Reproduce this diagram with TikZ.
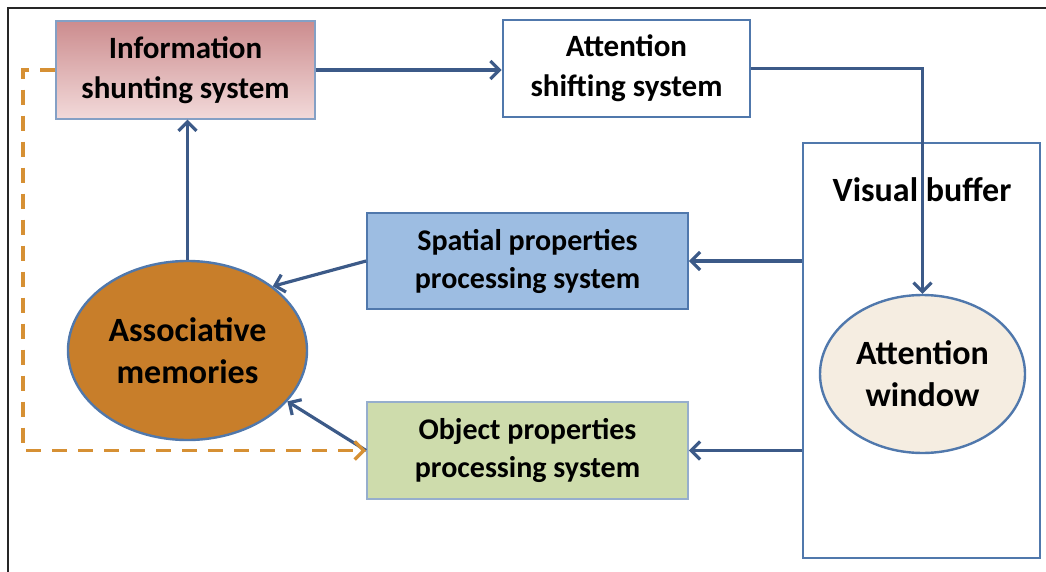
\documentclass[tikz,border=0pt]{standalone}
\usepackage{fontspec}
\setmainfont{Carlito}
\usepackage{tikz}
\usetikzlibrary{arrows.meta, shapes.geometric, positioning}
\definecolor{linkblue}{RGB}{60,90,136}
\definecolor{edgeblue}{RGB}{80,120,172}
\definecolor{infotop}{RGB}{204,140,142}
\definecolor{infobot}{RGB}{242,218,218}
\definecolor{spatialfill}{RGB}{157,189,226}
\definecolor{objectfill}{RGB}{206,220,172}
\definecolor{assocfill}{RGB}{200,126,42}
\definecolor{windowfill}{RGB}{245,237,225}
\definecolor{loopcol}{RGB}{214,144,52}
\tikzstyle{box} = [rectangle, draw=edgeblue, line width=1.8pt, align=center, inner sep=0pt, font=\bfseries\fontsize{31}{40}\selectfont]
\tikzstyle{blob} = [ellipse, draw=edgeblue, line width=2.4pt, align=center, inner sep=0pt, font=\bfseries\fontsize{34}{42}\selectfont]
\tikzstyle{link} = [draw=linkblue, line width=3.2pt, -{Straight Barb[length=9pt,width=18pt]}]
\tikzstyle{loopback} = [draw=loopcol, line width=3.4pt, dash pattern=on 15pt off 11pt, -{Straight Barb[length=9pt,width=18pt]}]

\begin{document}
\begin{tikzpicture}[x=1pt, y=-1pt]
\useasboundingbox (0,0) rectangle (1046,572);
\draw[line width=1.6pt, black!85] (8,572) -- (8,8) -- (1046,8);
\node (info) [box, minimum width=259pt, minimum height=98pt, top color=infotop, bottom color=infobot, draw=edgeblue!70, line width=1.4pt] at (185.5,70) {Information\\shunting system};
\node (shift) [box, minimum width=247pt, minimum height=97pt, line width=2.6pt] at (626.5,68.5) {Attention\\shifting system};
\node (buffer) [box, minimum width=237pt, minimum height=415pt, line width=2.6pt] at (921.5,350.5) {};
\node (buftitle) [font=\bfseries\fontsize{34}{40}\selectfont, inner sep=0pt] at (922,190) {Visual buffer};
\node (spatial) [box, minimum width=321pt, minimum height=96pt, fill=spatialfill, font=\bfseries\fontsize{30}{38}\selectfont] at (527.5,261) {Spatial properties\\processing system};
\node (object) [box, minimum width=321pt, minimum height=97pt, fill=objectfill, draw=edgeblue!60, font=\bfseries\fontsize{30}{38}\selectfont] at (527.5,450.5) {Object properties\\processing system};
\node (assoc) [blob, minimum width=239pt, minimum height=179pt, fill=assocfill] at (187.5,350.5) {Associative\\memories};
\node (window) [blob, minimum width=205pt, minimum height=158pt, fill=windowfill] at (922.5,374) {Attention\\window};
\coordinate (loop) at (23,450);
\draw[link] (info.east) -- (info.east -| shift.west);
\draw[link] (shift.east) -| (window.north);
\draw[link] (spatial.east -| buffer.west) -- (spatial.east);
\draw[link] (object.east -| buffer.west) -- (object.east);
\draw[link] (spatial.west) -- (assoc.37);
\draw[link] (object.west) -- (assoc.333);
\draw[link] (assoc.north) -- (info.south -| assoc.north);
\draw[loopback] (info.west) -- (info.west -| loop) |- (object.west);
\end{tikzpicture}
\end{document}
